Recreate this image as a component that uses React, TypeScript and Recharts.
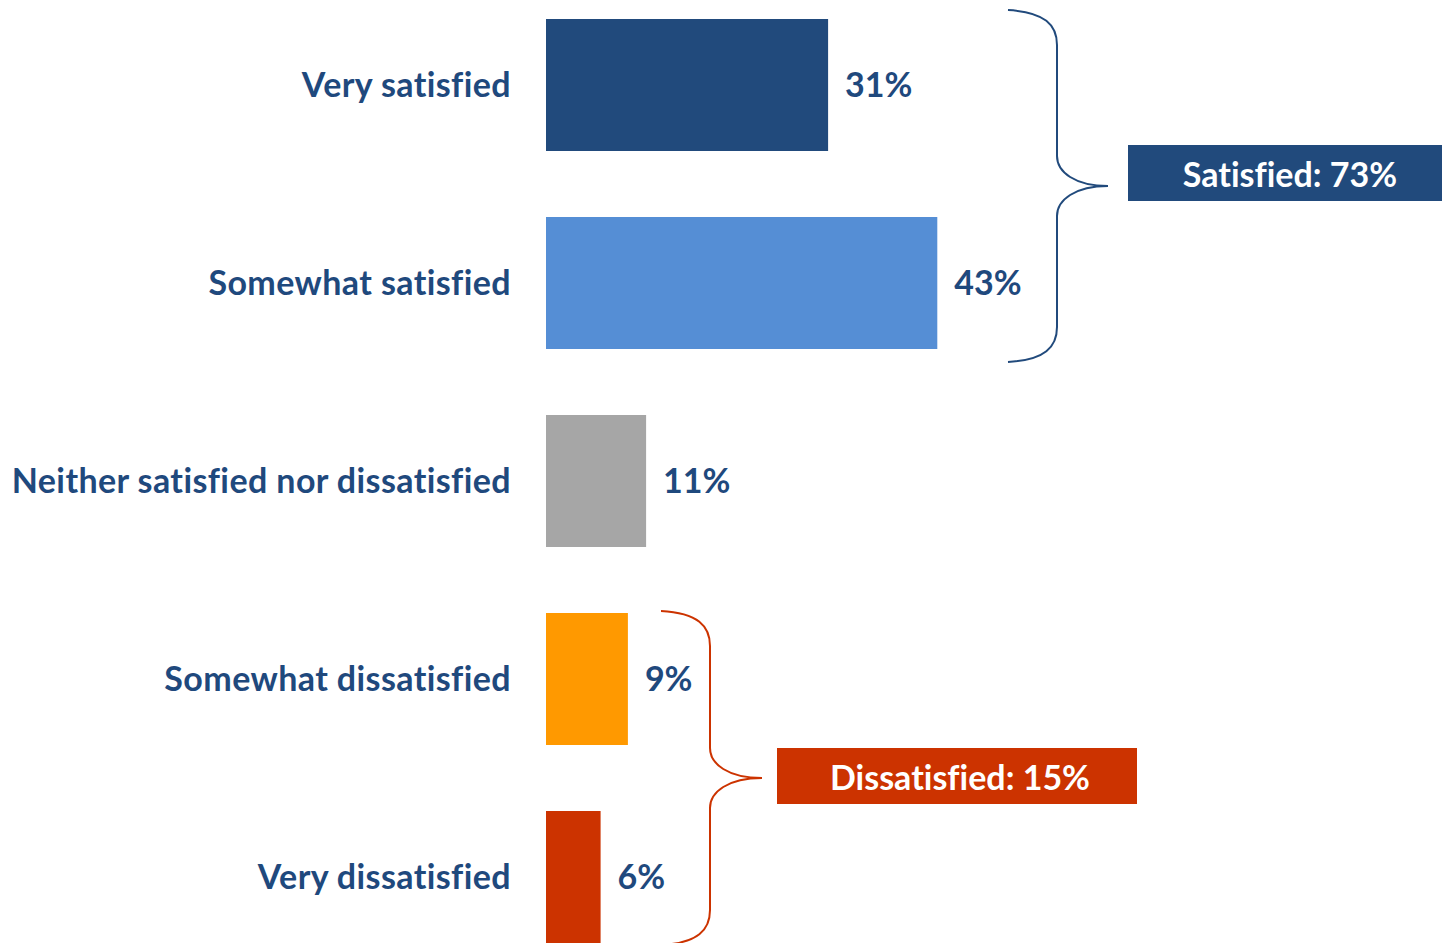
import React from "react";
import { BarChart, Bar, XAxis, YAxis, Cell, LabelList } from "recharts";

const categories = [
  "Very satisfied",
  "Somewhat satisfied",
  "Neither satisfied nor dissatisfied",
  "Somewhat dissatisfied",
  "Very dissatisfied",
];
const values = [31, 43, 11, 9, 6];
const barColors = ["#214a7c", "#558ed5", "#a6a6a6", "#ff9900", "#cc3300"];
const groupLabels = ["Satisfied: 73%", "Dissatisfied: 15%"];
const groupColors = ["#214a7c", "#cc3300"];

const data = categories.map((name, i) => ({ name, value: values[i] }));

const TEXT = "#1f497d";
const FONT = "Lato, 'Open Sans', sans-serif";

// layout
const W = 1442;
const H = 943;
const CHART_H = 990;
const TOP_SHIFT = -14;
const BAND = CHART_H / categories.length; // 198
const bandCenter = (i: number) => TOP_SHIFT + BAND * i + BAND / 2;

function brace(xl: number, spine: number, tipX: number, top: number, bottom: number) {
  const tipY = (top + bottom) / 2;
  const r = 30;
  return [
    `M ${xl} ${top}`,
    `C ${xl + 37} ${top + 2} ${spine} ${top + 15} ${spine} ${top + r + 5}`,
    `L ${spine} ${tipY - r}`,
    `C ${spine} ${tipY - 14} ${spine + 18} ${tipY} ${tipX} ${tipY}`,
    `C ${spine + 18} ${tipY} ${spine} ${tipY + 14} ${spine} ${tipY + r}`,
    `L ${spine} ${bottom - r - 5}`,
    `C ${spine} ${bottom - 15} ${xl + 37} ${bottom - 2} ${xl} ${bottom}`,
  ].join(" ");
}

export default function App() {
  const satTop = bandCenter(0) - 75;
  const satBottom = bandCenter(1) + 79;
  const disTop = bandCenter(3) - 68;
  const disBottom = bandCenter(4) + 68;
  const satMid = (bandCenter(0) + bandCenter(1)) / 2;
  const disMid = (bandCenter(3) + bandCenter(4)) / 2;

  return (
    <div style={{ position: "relative", width: W, height: H, overflow: "hidden", fontFamily: FONT }}>
      <style>{"body{margin:0} svg text{font-variant-ligatures:none}"}</style>
      <div style={{ position: "absolute", left: 0, top: TOP_SHIFT }}>
        <BarChart
          width={W}
          height={CHART_H}
          data={data}
          layout="vertical"
          margin={{ top: 0, right: 168, bottom: 0, left: 0 }}
        >
          <XAxis type="number" domain={[0, 80]} hide />
          <YAxis
            type="category"
            dataKey="name"
            width={546}
            axisLine={false}
            tickLine={false}
            tickSize={0}
            tickMargin={35}
            tick={{ fontSize: 34, fontWeight: 700, fill: TEXT, fontFamily: FONT, letterSpacing: 0.4 }}
          />
          <Bar dataKey="value" barSize={132} isAnimationActive={false}>
            {data.map((d, i) => (
              <Cell key={d.name} fill={barColors[i]} />
            ))}
            <LabelList
              dataKey="value"
              position="right"
              offset={17}
              formatter={(v: any) => `${v}%`}
              style={{ fontSize: 34, fontWeight: 700, fill: TEXT, fontFamily: FONT }}
            />
          </Bar>
        </BarChart>
      </div>
      <svg width={W} height={H} style={{ position: "absolute", left: 0, top: 0 }}>
        <path d={brace(1008, 1057, 1108, satTop, satBottom)} fill="none" stroke={groupColors[0]} strokeWidth={2} />
        <rect x={1128} y={satMid - 39} width={314} height={56} fill={groupColors[0]} />
        <text x={1290} y={satMid - 11} textAnchor="middle" dominantBaseline="central" fill="#fff" fontSize={34} fontWeight={700} fontFamily={FONT}>
          {groupLabels[0]}
        </text>
        <path d={brace(661, 710, 762, disTop, disBottom)} fill="none" stroke={groupColors[1]} strokeWidth={2} />
        <rect x={777} y={disMid - 30} width={360} height={56} fill={groupColors[1]} />
        <text x={960} y={disMid - 2} textAnchor="middle" dominantBaseline="central" fill="#fff" fontSize={34} fontWeight={700} fontFamily={FONT}>
          {groupLabels[1]}
        </text>
      </svg>
    </div>
  );
}
